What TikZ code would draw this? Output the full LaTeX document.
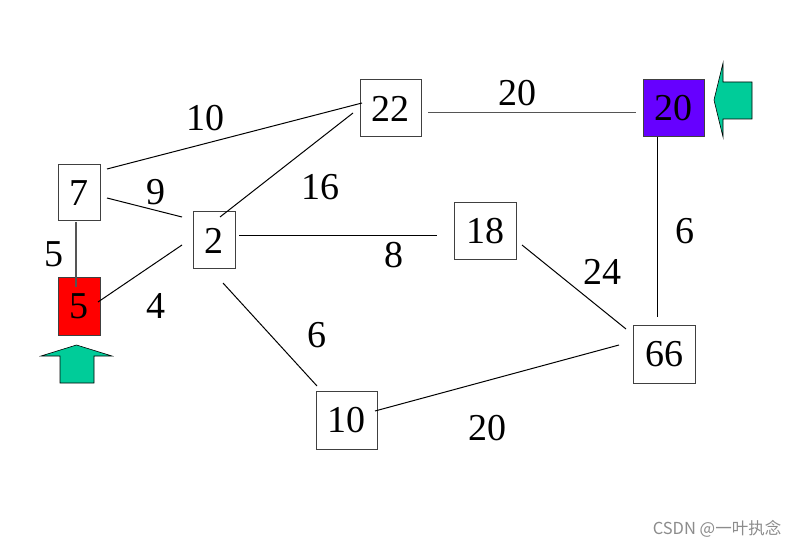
\documentclass[tikz,border=0pt]{standalone}
\usepackage{fontspec}
\setmainfont{Liberation Serif}
\newfontfamily\cjk{Noto Sans CJK SC}
\usetikzlibrary{calc}
\definecolor{nodered}{HTML}{FF0000}
\definecolor{nodepurple}{HTML}{6600FF}
\definecolor{arrowgreen}{HTML}{00CC99}
\definecolor{edgegray}{HTML}{555555}
\begin{document}
\begin{tikzpicture}[x=1pt,y=-1pt,
  vbox/.style={draw=black!75,line width=1pt,fill=white,inner sep=0pt,font=\fontsize{38}{40}\selectfont},
  elabel/.style={inner sep=0pt,font=\fontsize{38}{40}\selectfont},
  edge/.style={line width=1pt,draw=black},
  gedge/.style={line width=1.2pt,draw=edgegray},
  bigarrow/.style={fill=arrowgreen,draw=black,line width=0.6pt,line join=miter}]
\useasboundingbox (0,0) rectangle (801,548);
\fill[white] (0,0) rectangle (801,548);

% nodes
\node[vbox,minimum width=42pt,minimum height=56pt] (n7) at (79,193) {7};
\node[vbox,fill=nodered,minimum width=42pt,minimum height=57pt] (n5) at (79,306.5) {5};
\node[vbox,minimum width=42pt,minimum height=57pt] (n2) at (214,240.5) {2};
\node[vbox,minimum width=61pt,minimum height=57pt] (n22) at (390.5,108.5) {22};
\node[vbox,fill=nodepurple,minimum width=61pt,minimum height=57pt] (n20) at (673.5,108.5) {20};
\node[vbox,minimum width=62pt,minimum height=57pt] (n18) at (485,231.5) {18};
\node[vbox,minimum width=62pt,minimum height=58pt] (n66) at (664,354) {66};
\node[vbox,minimum width=61pt,minimum height=58pt] (n10) at (346.5,420) {10};

% edges
\draw[edge] ($(n7)+(28,-24)$) -- ($(n22)+(-28.5,-5.5)$);
\draw[edge] ($(n7)+(28,5)$) -- ($(n2)+(-32,-23.5)$);
\draw[gedge] ($(n7)+(-3,29)$) -- ($(n5)+(-3,-19.5)$);
\draw[edge] ($(n5)+(19,-4.5)$) -- ($(n2)+(-32,4.5)$);
\draw[edge] ($(n2)+(6,-23.5)$) -- ($(n22)+(-37.5,4.5)$);
\draw[edge] ($(n2)+(25,-4.5)$) -- ($(n18)+(-48,4.5)$);
\draw[edge] ($(n2)+(9,42.5)$) -- ($(n10)+(-29.5,-34)$);
\draw[gedge] ($(n22)+(37.5,4)$) -- ($(n20)+(-37.5,4)$);
\draw[edge] ($(n20)+(-16.5,28.5)$) -- ($(n66)+(-7,-37)$);
\draw[edge] ($(n18)+(37,13.5)$) -- ($(n66)+(-38,-25)$);
\draw[edge] ($(n10)+(28.5,-9)$) -- ($(n66)+(-45,-9)$);

% edge labels
\node[elabel] (l722) at (205,118) {10};
\node[elabel] (l2220) at (517,93) {20};
\node[elabel] (l72) at (156,192) {9};
\node[elabel] (l222) at (320,187) {16};
\node[elabel] (l75) at (54,254) {5};
\node[elabel] (l218) at (394,255) {8};
\node[elabel] (l52) at (156,306) {4};
\node[elabel] (l1866) at (602,272) {24};
\node[elabel] (l2066) at (685,231) {6};
\node[elabel] (l210) at (317,335) {6};
\node[elabel] (l1066) at (487,428) {20};

% green arrows
\filldraw[bigarrow] (76.5,345) -- (112,356) -- (94,356) -- (94,383) -- (60,383) -- (60,356) -- (41,356) -- cycle;
\filldraw[bigarrow] (714,100) -- (723,63) -- (723,82) -- (752,82) -- (752,119) -- (723,119) -- (723,137) -- cycle;

% watermark
\node[text=black!45,font=\cjk\fontsize{16.5}{18}\selectfont,inner sep=0pt] (wm) at (717,529) {CSDN @一叶执念};
\end{tikzpicture}
\end{document}
